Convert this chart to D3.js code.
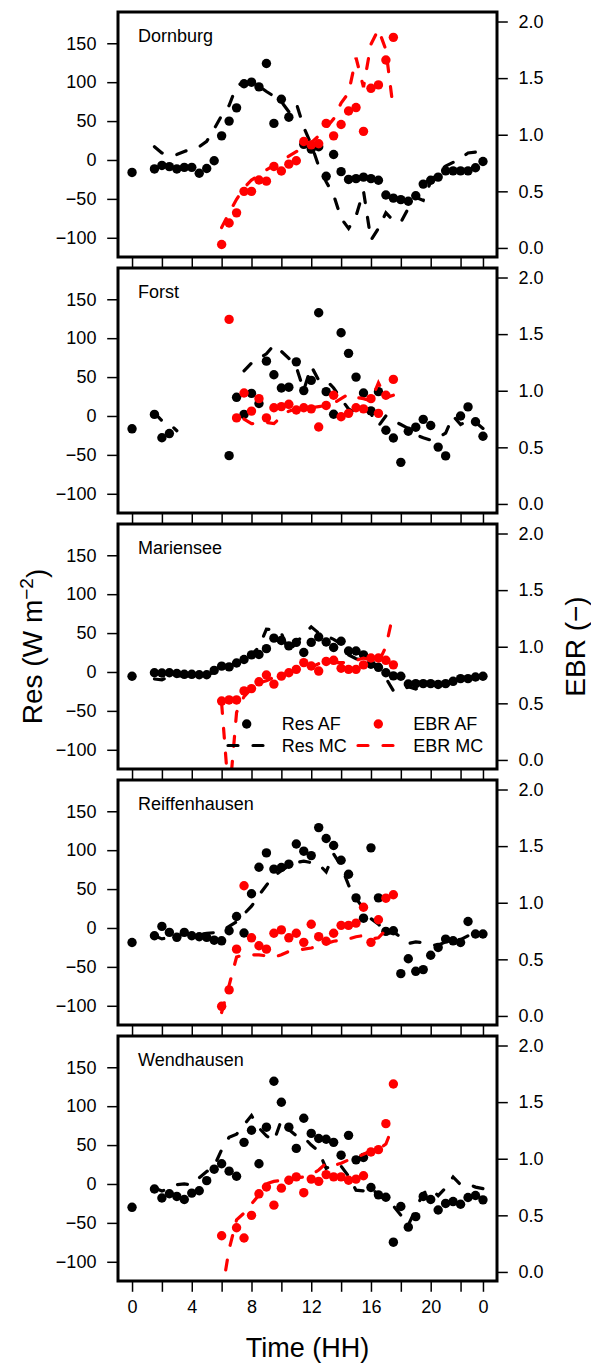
<!DOCTYPE html>
<html>
<head>
<meta charset="utf-8">
<script src="https://cdn.jsdelivr.net/npm/d3@7"></script>
<style>
  body { margin: 0; background: #fff; }
  text { font-family: "Liberation Sans", Arial, Helvetica, sans-serif; }
</style>
</head>
<body>
<svg id="chart"></svg>
<script>
// half-hourly time of day (HH)
const hours = [0, 0.5, 1, 1.5, 2, 2.5, 3, 3.5, 4, 4.5, 5, 5.5, 6, 6.5, 7, 7.5, 8, 8.5, 9, 9.5,
  10, 10.5, 11, 11.5, 12, 12.5, 13, 13.5, 14, 14.5, 15, 15.5, 16, 16.5, 17, 17.5, 18, 18.5, 19, 19.5,
  20, 20.5, 21, 21.5, 22, 22.5, 23, 23.5];
// EBR is only given for the daytime hours
const ebrHours = [6, 6.5, 7, 7.5, 8, 8.5, 9, 9.5, 10, 10.5, 11, 11.5, 12, 12.5, 13, 13.5, 14, 14.5,
  15, 15.5, 16, 16.5, 17, 17.5];

const sites = ["Dornburg", "Forst", "Mariensee", "Reiffenhausen", "Wendhausen"];

const resTicks = [-100, -50, 0, 50, 100, 150];
const ebrTicks = [0, 0.5, 1, 1.5, 2];
const timeTicks = [0, 2, 4, 6, 8, 10, 12, 14, 16, 18, 20, 22, 23.5];
const timeLabels = ["0", "", "4", "", "8", "", "12", "", "16", "", "20", "", "0"];

// Res (W m-2), AF = points, MC = dashed line
const dornburgResAF = [-16, null, null, -11.5, -7, -8.5, -11.5, -9.5, -9.5, -17, -11, -1, 31, 50, 67, 98, 100, 94, 124, 47,
  78, 55, null, 20, 14, 17, -21, 7, -15, -25, -24, -22, -24, -26, -45, -49, -51, -53, -46, -31,
  -26, -22, -14, -14, -14, -14, -10, -2];
const dornburgResMC = [null, null, null, 17, 9, 6, 7, 11, 14, 17, 24, 40, 57, 70, 95, 100, 99, 95, 88, 82,
  75, 62, 73, 42, 20, -8, -28, -45, -75, -88, -72, -40, -103, -88, -68, -78, -80, -62, -48, -52,
  -28, -15, -8, -3, 2, 9, 10, 8];
const dornburgEbrAF = [0.03, 0.22, 0.31, 0.50, 0.50, 0.60, 0.59, 0.72, 0.68, 0.74, 0.77, 0.94, 0.91, 0.92,
  1.10, 0.99, 1.09, 1.21, 1.24, 1.03, 1.41, 1.44, 1.66, 1.86];
const dornburgEbrMC = [0.18, 0.31, 0.43, 0.53, 0.60, 0.64, 0.69, 0.73, 0.77, 0.81, 0.85, 0.89, 0.93, 0.99,
  1.06, 1.14, 1.28, 1.37, 1.68, 1.42, 1.80, 1.93, 1.75, 1.22];

const forstResAF = [-16.5, null, null, 2, -28, -22.6, null, null, null, null, null, null, null, -51, 24, 2, 29, 16, 70.5, 53,
  36, 37, 69.6, 32.6, 45.7, 132.7, 31.3, 2.2, 107, 80.5, 50, 29.6, 6.5, 31.3, -18.3, -28.3, -59.6, -19.6, -14.4, -4.3,
  -12.2, -40, -51.3, null, 0, 11.7, -7.4, -26];
const forstResMC = [null, null, null, 4, -6, -10, -19, null, null, null, null, null, null, null, null, 58, 68, 74, 80, 91,
  83, 74, 63, 33, 64, 46, 46, 36, 22, 9, 3, 10, 3, -13, 0, -6, -11, -16, -24, -28,
  -31, -28, -22, 0, -11, -6, -8, -16];
const forstEbrAF = [null, 1.63, 0.76, 0.98, 0.82, 0.93, 0.76, 0.85, 0.86, 0.88, 0.83, 0.85, 0.84, 0.68,
  0.87, 0.96, 0.77, 0.80, 0.85, 0.84, 0.93, 0.80, 0.96, 1.10];
const forstEbrMC = [null, null, null, 0.75, 0.71, 0.71, 0.72, 0.71, 0.77, 0.82, 0.84, 0.85, 0.85, 0.86,
  0.87, 0.89, 0.93, 0.97, 0.94, 0.93, 0.91, 1.07, 0.94, 0.96];

const marienseeResAF = [-5.5, null, null, -1, -1.3, -1, -2, -3, -3, -3.5, -3.5, 2, 7.5, 6.5, 11.5, 16, 22, 22.5, 30, 43.5,
  40.5, 33.5, 38, 25, 38, 45, 38.5, 31.5, 39.5, 27, 27, 22, 10, 6, -1, -5, -5.5, -15.5, -15, -15,
  -15, -16, -15, -12, -8.5, -8.5, -6.5, -5.5];
const marienseeResMC = [null, null, null, -9, -10, -6, -5, -5, -5, -5, -4, 0, 5, 8, 11, 16, 22, 32, 55, 54,
  50, 26, 38, 48, 58, 50, 46, 42, 36, 22, 17, 15, 12, 8, -8, -24, -24, -19, -22, -18,
  -17, -16, -14, -12, -10, -10, -8, -6];
const marienseeEbrAF = [0.52, 0.53, 0.53, 0.61, 0.63, 0.69, 0.75, 0.67, 0.74, 0.77, 0.80, 0.86, 0.83, 0.785,
  0.87, 0.88, 0.81, 0.80, 0.80, 0.84, 0.90, 0.90, 0.88, 0.84];
const marienseeEbrMC = [0.50, -0.35, 0.42, 0.56, 0.63, 0.68, 0.70, 0.73, 0.75, 0.77, 0.79, 0.82, 0.82, 0.85,
  0.86, 0.86, 0.86, 0.86, 0.88, 0.90, 0.88, 0.86, 1.00, 1.30];

const reiffenhausenResAF = [-18.7, null, null, -10, 2, -5.7, -12, -5.7, -10, -11.3, -12, -15.7, -16.5, -3.5, 14.8, -6.5, 44, 78, 96.5, 75.7,
  77.8, 82, 108, 98.7, 93, 129, 115, 106, 87, 69, 38.7, 12.6, 103, 38.7, -4.3, -3.5, -58.7, -39.6, -55.7, -53.5,
  -35, -25, -14.3, -16.5, -18.7, 8.3, -7.8, -7.8];
const reiffenhausenResMC = [null, null, null, -10, -14, -12, -10, -8, -8, -8, -7, -6, -4, 2, 8, 18, 28, 42, 55, 66,
  74, 80, 84, 86, 84, 82, 72, 95, 80, 55, 38, 25, 12, 5, -8, -5, -12, -20, -18, -19,
  -22, -22, -18, -16, -15, -10, -8, -8];
const reiffenhausenEbrAF = [0.085, 0.23, 0.59, 1.15, 0.69, 0.62, 0.59, 0.73, 0.76, 0.69, 0.73, 0.65, 0.81, 0.70,
  0.66, 0.73, 0.80, 0.80, 0.82, 0.96, 0.65, 0.85, 1.04, 1.07];
const reiffenhausenEbrMC = [0.03, 0.27, 0.52, 0.54, 0.54, 0.54, 0.53, 0.52, 0.54, 0.57, 0.58, 0.59, 0.60, 0.62,
  0.64, 0.66, 0.67, 0.68, 0.70, 0.71, 0.68, 0.69, 0.76, 0.82];

const wendhausenResAF = [-30, null, null, -6.5, -18, -12.6, -16, -20, -11.7, -8.7, 4.3, 19, 26, 16.5, 10, 53.5, 69, 26, 73, 132,
  105, 73, 45.7, 84.5, 65, 58.5, 57.5, 53.5, 37, 62.5, 31, 34, -4.5, -14, -17, -74.8, -29, -55.5, -42, -16,
  -20, -33.5, -25, -22.6, -26, -17.4, -14.8, -20.4];
const wendhausenResMC = [null, null, null, -5, -9, -6, -1, 0, -1, 8, 16, 23, 44, 60, 64, 76, 88, 72, 62, 55,
  82, 70, 62, 60, 50, 42, 20, 25, 23, 10, -8, -9, -4, -15, -20, -28, -40, -53, -32, -12,
  -6, -15, -5, 9, -1, 0, -4, -6];
const wendhausenEbrAF = [0.32, null, 0.39, 0.30, 0.50, 0.69, 0.75, 0.59, 0.74, 0.81, 0.84, 0.70, 0.82, 0.80,
  0.86, 0.84, 0.84, 0.81, 0.82, 0.85, 1.06, 1.08, 1.31, 1.66];
const wendhausenEbrMC = [-0.20, 0.20, 0.46, 0.52, 0.60, 0.68, 0.78, 0.80, 0.81, 0.82, 0.83, 0.84, 0.86, 0.90,
  0.96, 0.94, 0.96, 0.99, 1.01, 1.04, 1.07, 1.08, 1.13, 1.30];

const panels = [
  { name: sites[0], resAF: dornburgResAF, resMC: dornburgResMC, ebrAF: dornburgEbrAF, ebrMC: dornburgEbrMC },
  { name: sites[1], resAF: forstResAF, resMC: forstResMC, ebrAF: forstEbrAF, ebrMC: forstEbrMC },
  { name: sites[2], resAF: marienseeResAF, resMC: marienseeResMC, ebrAF: marienseeEbrAF, ebrMC: marienseeEbrMC },
  { name: sites[3], resAF: reiffenhausenResAF, resMC: reiffenhausenResMC, ebrAF: reiffenhausenEbrAF, ebrMC: reiffenhausenEbrMC },
  { name: sites[4], resAF: wendhausenResAF, resMC: wendhausenResMC, ebrAF: wendhausenEbrAF, ebrMC: wendhausenEbrMC }
];

const W = 591, H = 1365;
const left = 118, right = 497;
const panelH = 245, panelStep = 256, firstTop = 12;
const tick = 10.8;
const dash = "10,15";
const red = "#ff0000";

const svg = d3.select("#chart").attr("width", W).attr("height", H);
svg.append("rect").attr("width", W).attr("height", H).attr("fill", "#fff");

const x = d3.scaleLinear().domain([-0.94, 24.44]).range([left, right]);

function pairs(xs, ys) {
  return xs.map((h, i) => [h, ys[i]]);
}

panels.forEach((p, k) => {
  const top = firstTop + panelStep * k;
  const bottom = top + panelH;
  const yRes = d3.scaleLinear().domain([-124.7, 190.2]).range([bottom, top]);
  const yEbr = d3.scaleLinear().domain([-0.08, 2.084]).range([bottom, top]);

  const g = svg.append("g").attr("class", "panel");

  svg.append("clipPath").attr("id", "clip" + k)
    .append("rect").attr("x", left).attr("y", top).attr("width", right - left).attr("height", panelH);
  const plot = g.append("g").attr("clip-path", `url(#clip${k})`);

  const resLine = d3.line().defined(d => d[1] != null).x(d => x(d[0])).y(d => yRes(d[1]));
  const ebrLine = d3.line().defined(d => d[1] != null).x(d => x(d[0])).y(d => yEbr(d[1]));

  // Res AF points
  plot.selectAll(null)
    .data(pairs(hours, p.resAF).filter(d => d[1] != null))
    .join("circle")
    .attr("cx", d => x(d[0])).attr("cy", d => yRes(d[1])).attr("r", 4.7)
    .attr("fill", "#000");

  // Res MC dashed
  plot.append("path").attr("d", resLine(pairs(hours, p.resMC)))
    .attr("fill", "none").attr("stroke", "#000").attr("stroke-width", 3.2)
    .attr("stroke-dasharray", dash).attr("stroke-linecap", "round");

  // EBR AF points
  plot.selectAll(null)
    .data(pairs(ebrHours, p.ebrAF).filter(d => d[1] != null))
    .join("circle")
    .attr("cx", d => x(d[0])).attr("cy", d => yEbr(d[1])).attr("r", 4.7)
    .attr("fill", red);

  // EBR MC dashed
  plot.append("path").attr("d", ebrLine(pairs(ebrHours, p.ebrMC)))
    .attr("fill", "none").attr("stroke", red).attr("stroke-width", 3.2)
    .attr("stroke-dasharray", dash).attr("stroke-linecap", "round");

  // axes
  const axL = g.append("g").attr("transform", `translate(${left},0)`)
    .call(d3.axisLeft(yRes).tickValues(resTicks).tickSize(tick).tickPadding(tick));
  const axR = g.append("g").attr("transform", `translate(${right},0)`)
    .call(d3.axisRight(yEbr).tickValues(ebrTicks).tickSize(tick).tickPadding(tick).tickFormat(d3.format(".1f")));
  const axB = g.append("g").attr("transform", `translate(0,${bottom})`)
    .call(d3.axisBottom(x).tickValues(timeTicks).tickSize(tick).tickPadding(tick - 2)
      .tickFormat((d, i) => k === panels.length - 1 ? timeLabels[i] : ""));

  [axL, axR, axB].forEach(a => {
    a.select(".domain").remove();
    a.selectAll(".tick line").attr("stroke", "#000").attr("stroke-width", 1.5);
    a.selectAll(".tick text").attr("fill", "#000").style("font-size", "18px")
      .style("font-family", '"Liberation Sans", Arial, sans-serif');
  });

  // panel box
  g.append("rect").attr("x", left).attr("y", top).attr("width", right - left).attr("height", panelH)
    .attr("fill", "none").attr("stroke", "#000").attr("stroke-width", 3);

  g.append("text").attr("x", 138).attr("y", top + 30)
    .style("font-size", "18px").text(p.name);

  // legend sits in the Mariensee panel
  if (k === 2) {
    const lg = g.append("g");
    const row1 = top + 200, row2 = top + 221.5;
    lg.append("circle").attr("cx", 246.7).attr("cy", row1).attr("r", 4.7).attr("fill", "#000");
    lg.append("circle").attr("cx", 378.3).attr("cy", row1).attr("r", 4.7).attr("fill", red);
    lg.append("line").attr("x1", 228).attr("x2", 267).attr("y1", row2).attr("y2", row2)
      .attr("stroke", "#000").attr("stroke-width", 3.2).attr("stroke-dasharray", dash).attr("stroke-linecap", "round");
    lg.append("line").attr("x1", 358).attr("x2", 397).attr("y1", row2).attr("y2", row2)
      .attr("stroke", red).attr("stroke-width", 3.2).attr("stroke-dasharray", dash).attr("stroke-linecap", "round");
    const labels = [["Res AF", 281.7, row1], ["EBR AF", 413.3, row1], ["Res MC", 281.7, row2], ["EBR MC", 413.3, row2]];
    lg.selectAll("text").data(labels).join("text")
      .attr("x", d => d[1]).attr("y", d => d[2]).attr("dy", "0.36em")
      .style("font-size", "18px").text(d => d[0]);
  }
});

// axis titles
const midY = (firstTop + firstTop + panelStep * 4 + panelH) / 2;
const resTitle = svg.append("text")
  .attr("transform", `translate(42,${midY}) rotate(-90)`)
  .attr("text-anchor", "middle").style("font-size", "28px");
resTitle.append("tspan").text("Res (W m");
resTitle.append("tspan").attr("dy", "-0.45em").style("font-size", "19px").text("\u22122");
resTitle.append("tspan").attr("dy", "0.45em").text(")");

svg.append("text")
  .attr("transform", `translate(585,${midY}) rotate(-90)`)
  .attr("text-anchor", "middle").style("font-size", "28px").text("EBR (\u2212)");

svg.append("text").attr("x", (left + right) / 2).attr("y", 1357)
  .attr("text-anchor", "middle").style("font-size", "27px").text("Time (HH)");
</script>
</body>
</html>
